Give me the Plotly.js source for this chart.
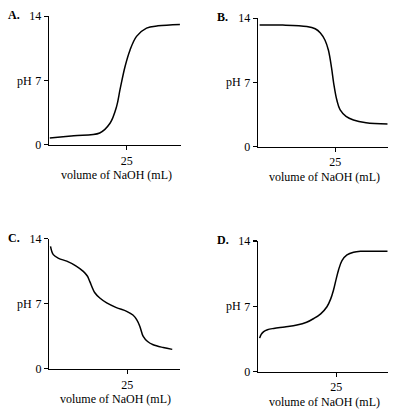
<!DOCTYPE html>
<html><head><meta charset="utf-8">
<script src="https://cdn.plot.ly/plotly-3.0.1.min.js"></script>
<style>html,body{margin:0;padding:0;background:#fff}#c{width:394px;height:414px}</style>
</head><body><div id="c"></div>
<script>
// Panel A: strong acid titrated with NaOH
const volA = [0.3, 8, 16.3, 19.6, 21.7, 22.8, 24.4, 26, 28.1, 31.3, 35, 42];
const phA  = [0.75, 1.0, 1.3, 2.35, 4.16, 6.0, 8.5, 10.3, 11.8, 12.7, 12.95, 13.1];
// Panel B: strong base titrated
const volB = [0.5, 8, 15.8, 18.5, 20.2, 21.7, 22.8, 23.8, 24.5, 25.5, 26.6, 28.5, 30.9, 35, 42];
const phB  = [13.25, 13.25, 13.1, 12.85, 12.4, 11.6, 10.5, 8.6, 6.9, 5.1, 4.0, 3.3, 2.9, 2.6, 2.45];
// Panel C: diprotic base
const volC = [0.4, 1.3, 3, 5.6, 8.5, 10.9, 12.2, 13.0, 14.6, 16.3, 18.4, 21.5, 24.8, 26.8, 28.0, 29.0, 30.1, 31.5, 33.3, 36.5, 39.4];
const phC  = [13.2, 12.3, 11.9, 11.6, 11.1, 10.5, 10.0, 9.4, 8.2, 7.6, 7.1, 6.6, 6.2, 5.8, 5.3, 4.6, 3.5, 2.95, 2.6, 2.3, 2.1];
// Panel D: weak acid titrated
const volD = [0.5, 1.0, 1.8, 3, 5, 8.5, 12.4, 15.5, 17.8, 20, 22, 23.2, 24.1, 25, 25.7, 26.8, 28.4, 30.5, 32.7, 36, 41.4];
const phD  = [3.6, 4.0, 4.3, 4.5, 4.64, 4.8, 5.0, 5.3, 5.7, 6.2, 6.96, 7.8, 8.75, 10.0, 10.9, 11.9, 12.5, 12.8, 12.9, 12.9, 12.9];

const panelLabels = ["A.", "B.", "C.", "D."];
const yTickVals = [0, 7, 14];
const yTickText = ["0", "7", "14"];
const xTickVals = [25];
const xTickText = ["25"];
const xTitle = "volume of NaOH (mL)";
const yTitle = "pH";

const FONT = "Liberation Serif, Times New Roman, serif";
const series = [[volA, phA], [volB, phB], [volC, phC], [volD, phD]];
const doms = [
  {x: [0.124, 0.459], y: [0.650, 0.961]},
  {x: [0.655, 0.984], y: [0.646, 0.956]},
  {x: [0.125, 0.457], y: [0.109, 0.423]},
  {x: [0.655, 0.984], y: [0.102, 0.418]}
];
const xMax = [42.3, 42, 41.9, 41.4];

const data = [];
const layout = {
  width: 394, height: 414,
  margin: {l: 0, r: 0, t: 0, b: 0},
  paper_bgcolor: "#fff", plot_bgcolor: "#fff",
  showlegend: false,
  font: {family: FONT, size: 12, color: "#000"},
  annotations: []
};

series.forEach((s, i) => {
  const n = i + 1;
  const xa = n === 1 ? "x" : "x" + n;
  const ya = n === 1 ? "y" : "y" + n;
  data.push({
    x: s[0], y: s[1], xaxis: xa, yaxis: ya,
    type: "scatter", mode: "lines",
    line: {color: "#000", width: 1.5, shape: "spline", smoothing: 1},
    hoverinfo: "skip"
  });
  const ax = {
    domain: doms[i].x, range: [0, xMax[i]], showgrid: false, zeroline: false,
    showline: true, linecolor: "#000", linewidth: 1.3,
    ticks: "outside", ticklen: 4, tickwidth: 1.2, tickcolor: "#000",
    tickmode: "array", tickvals: xTickVals, ticktext: xTickText,
    tickfont: {family: FONT, size: 12, color: "#000"},
    anchor: ya, fixedrange: true
  };
  const ay = {
    domain: doms[i].y, range: [0, 14], showgrid: false, zeroline: false,
    showline: true, linecolor: "#000", linewidth: 1.3,
    ticks: "outside", ticklen: 4, tickwidth: 1.2, tickcolor: "#000",
    tickmode: "array", tickvals: yTickVals, ticktext: yTickText,
    tickfont: {family: FONT, size: 12, color: "#000"},
    anchor: xa, fixedrange: true
  };
  layout[n === 1 ? "xaxis" : "xaxis" + n] = ax;
  layout[n === 1 ? "yaxis" : "yaxis" + n] = ay;

  layout.annotations.push({
    xref: xa, yref: ya, x: 0, y: 7, text: yTitle, showarrow: false,
    xanchor: "right", yanchor: "middle", xshift: -15,
    font: {family: FONT, size: 12, color: "#000"}
  });
  layout.annotations.push({
    xref: xa + " domain", yref: ya + " domain", x: 0.51, y: 0, text: xTitle, showarrow: false,
    xanchor: "center", yanchor: "top", yshift: -21,
    font: {family: FONT, size: 12, color: "#000"}
  });
  layout.annotations.push({
    xref: xa + " domain", yref: ya + " domain", x: 0, y: 1, text: "<b>" + panelLabels[i] + "</b>", showarrow: false,
    xanchor: "left", yanchor: "middle", xshift: -43, yshift: 1,
    font: {family: FONT, size: 12, color: "#000"}
  });
});

Plotly.newPlot("c", data, layout, {staticPlot: true, displayModeBar: false});
</script></body></html>
